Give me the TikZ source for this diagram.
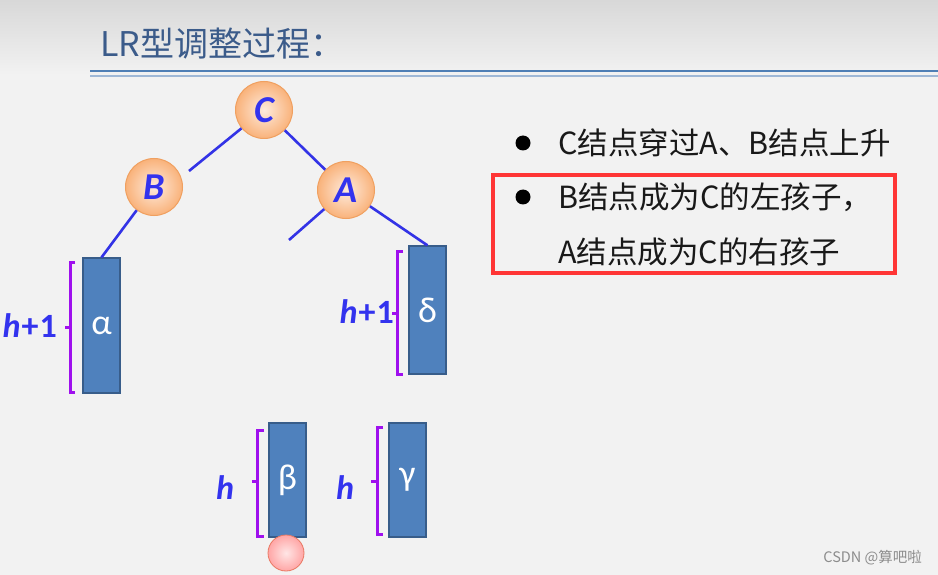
\documentclass[tikz,border=0pt]{standalone}
\usepackage{fontspec}
\setmainfont{Carlito}
\newfontfamily\cjk{Noto Sans CJK SC}
\newfontfamily\carl{Carlito}
\usetikzlibrary{shadings}
\definecolor{bg}{HTML}{F2F2F2}
\definecolor{bgtop}{HTML}{D8D8D8}
\definecolor{titlec}{HTML}{3B5B8A}
\definecolor{rule}{HTML}{4F7FB5}
\definecolor{rule2}{HTML}{9FB8D6}
\definecolor{edge}{HTML}{3333E6}
\definecolor{lbl}{HTML}{3333EE}
\definecolor{boxfill}{HTML}{4F81BD}
\definecolor{boxdraw}{HTML}{385D8A}
\definecolor{brc}{HTML}{9F10EE}
\definecolor{nodein}{HTML}{FEEBDD}
\definecolor{nodeout}{HTML}{F9B27A}
\definecolor{nodedraw}{HTML}{F0A060}
\definecolor{redbox}{HTML}{FF3535}
\begin{document}
\begin{tikzpicture}[x=1pt,y=-1pt,
  tnode/.style={circle,minimum size=57pt,inner sep=0pt,draw=nodedraw,line width=1pt,
    inner color=nodein,outer color=nodeout,
    font=\fontsize{38}{38}\selectfont\carl\bfseries\itshape,text=lbl},
  tedge/.style={draw=edge,line width=2.6pt},
  subtree/.style={rectangle,fill=boxfill,draw=boxdraw,line width=1.2pt,inner sep=0pt,
    text=white,font=\fontsize{36}{36}\selectfont\carl},
  brk/.style={draw=brc,line width=3pt},
  hlabel/.style={font=\fontsize{34}{34}\selectfont\carl\bfseries\itshape,text=lbl,inner sep=0pt},
  btext/.style={anchor=west,inner sep=0pt,font=\fontsize{30.5}{30.5}\selectfont\cjk,text=black!90},
  bullet/.style={circle,fill=black,inner sep=0pt,minimum size=15pt}]
\useasboundingbox (0,0) rectangle (938,575);
\fill[bg] (0,0) rectangle (938,575);
\shade[top color=bgtop,bottom color=bg] (0,0) rectangle (938,75);
% title
\node[anchor=west,inner sep=0pt,font=\fontsize{34}{34}\selectfont\cjk,text=titlec] (title) at (100,44) {LR型调整过程：};
\draw[rule,line width=2pt] (90,71) -- (938,71);
\draw[rule2,line width=1.2pt] (90,76) -- (938,76);
% tree nodes
\node[tnode] (C) at (264,110) {C};
\node[tnode] (B) at (154,187) {B};
\node[tnode] (A) at (346,190) {A};
\coordinate (Bgap) at (189,171);
\coordinate (Afree) at (289,240);
\draw[tedge] (C) -- (Bgap);
\draw[tedge] (C) -- (A);
\draw[tedge] (A) -- (Afree);
% subtrees
\node[subtree,minimum width=37pt,minimum height=135pt] (alpha) at (101.5,325.5) {α};
\node[subtree,minimum width=37pt,minimum height=128pt] (delta) at (427.5,310) {δ};
\node[subtree,minimum width=37pt,minimum height=114pt] (beta) at (287.5,480) {β};
\node[subtree,minimum width=37pt,minimum height=114pt] (gamma) at (407.5,480) {γ};
\draw[tedge] (B) -- (alpha.north);
\draw[tedge] (A) -- (delta.north);
% brackets
\draw[brk] (75,262) -- (70,262) -- (70,392) -- (75,392);
\draw[brk] (70,327) -- (65,327);
\node[hlabel,anchor=east] (h1) at (57,326) {h\kern1pt\upshape+\kern1pt1};
\draw[brk] (403,251) -- (397,251) -- (397,374) -- (403,374);
\draw[brk] (397,313) -- (392,313);
\node[hlabel,anchor=east] (h2) at (394,312) {h\kern1pt\upshape+\kern1pt1};
\draw[brk] (264,430) -- (257,430) -- (257,536) -- (264,536);
\draw[brk] (257,481) -- (252,481);
\node[hlabel] (h3) at (225,488) {h};
\draw[brk] (383,427) -- (377,427) -- (377,534) -- (383,534);
\draw[brk] (377,481) -- (371,481);
\node[hlabel] (h4) at (345,488) {h};
% new node
\node[circle,minimum size=36pt,inner sep=0pt,draw=red!50!brown!70,line width=0.8pt,
  inner color=red!10,outer color=red!35] (new) at (286,553) {};
% bullets
\node[bullet] (b1) at (523,143) {};
\node[btext] (t1) at (558,143) {C结点穿过A、B结点上升};
\node[bullet] (b2) at (523,197) {};
\node[btext] (t2) at (558,197) {B结点成为C的左孩子，};
\node[btext] (t3) at (558,252) {A结点成为C的右孩子};
\draw[draw=redbox,line width=4pt] (493,175) rectangle (895,273);
% watermark
\node[anchor=east,inner sep=0pt,font=\fontsize{14.5}{14.5}\selectfont\cjk,text=black!45] (wm) at (922,558) {CSDN @算吧啦};
\end{tikzpicture}
\end{document}
